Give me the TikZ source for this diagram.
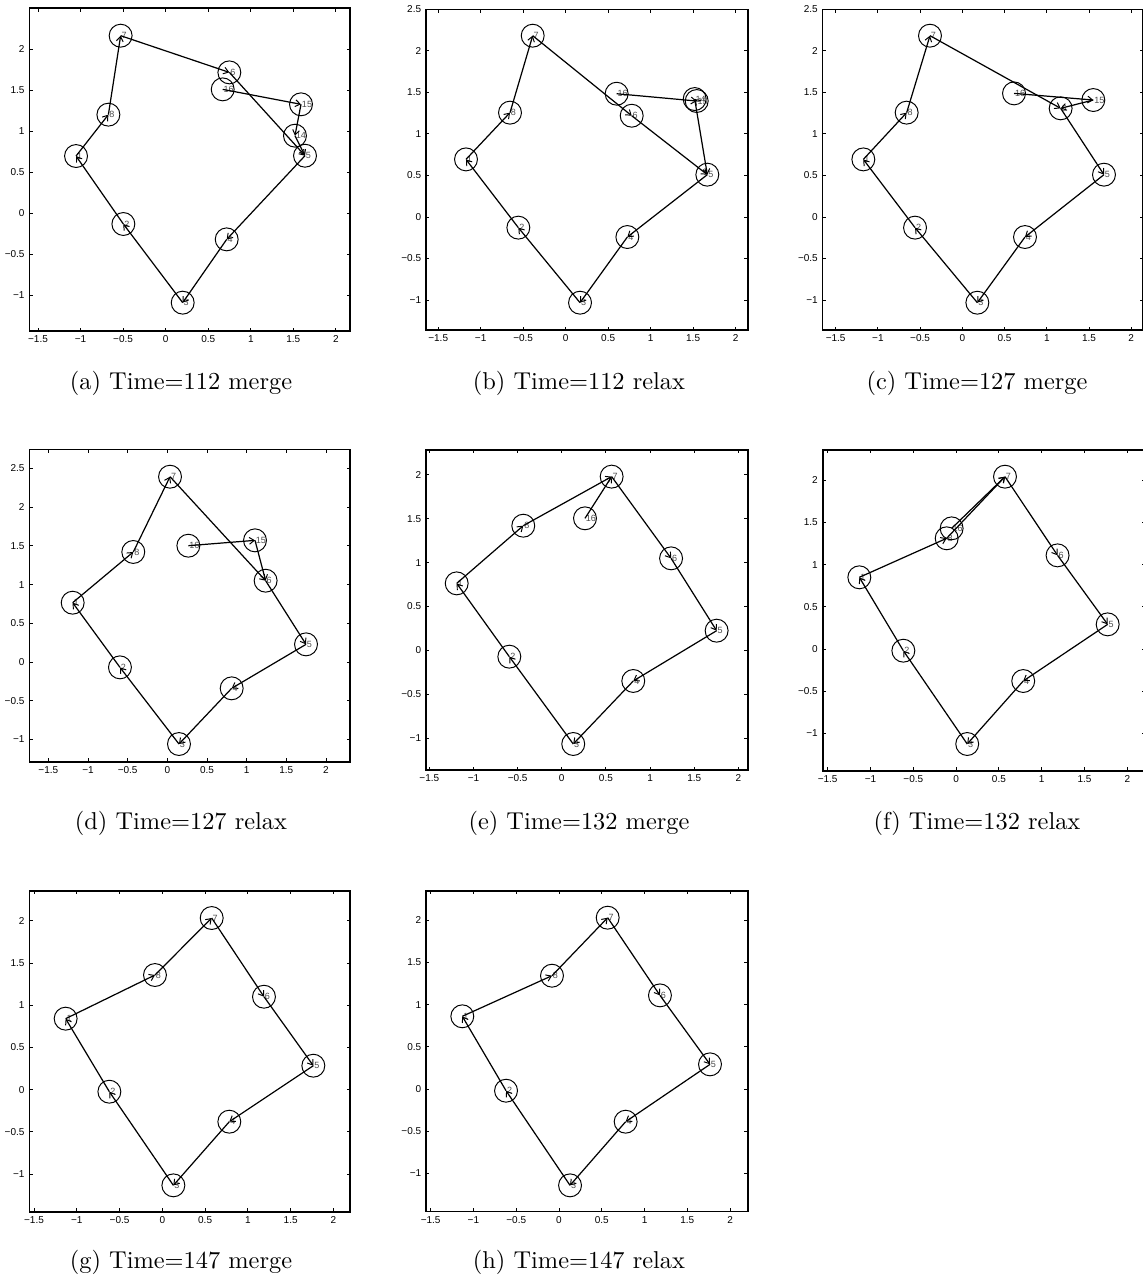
\documentclass[tikz,border=0pt]{standalone}
\usepackage{fontspec}
\newfontfamily\plotfont{Liberation Sans}
\usepackage{tikz}
\usetikzlibrary{arrows.meta}

\newcommand{\ticksize}{\plotfont\fontsize{4.1}{4.8}\selectfont}
\newcommand{\nodesize}{\plotfont\fontsize{3.7}{4}\selectfont}
\newcommand{\plotaxes}[6]{%
  \draw[frame] (#2,#4) rectangle (#3,#5);
  \foreach \t/\s [count=\i] in {-1.5/−1.5,-1/−1,-0.5/−0.5,0/0,0.5/0.5,1/1,1.5/1.5,2/2} {
    \draw[tick] (\t,#4) -- ++(0,1.4pt);
    \draw[tick] (\t,#5) -- ++(0,-1.4pt);
    \node[xlbl] (#1x\i) at (\t,#4) {\s};
  }
  \foreach \t/\s [count=\i] in {#6} {
    \draw[tick] (#2,\t) -- ++(1.4pt,0);
    \draw[tick] (#3,\t) -- ++(-1.4pt,0);
    \node[ylbl] (#1y\i) at (#2,\t) {\s};
  }
}

\begin{document}
\begin{tikzpicture}[
  x=0.41pt, y=-0.41pt,
  frame/.style={line width=0.7pt},
  tick/.style={line width=0.4pt},
  xlbl/.style={font=\ticksize, anchor=north, inner sep=0.5pt, yshift=-1.3pt},
  ylbl/.style={font=\ticksize, anchor=east, inner sep=0.5pt, xshift=-1.3pt},
  pt/.style={draw, circle, minimum size=9.4pt, inner sep=0pt, outer sep=0pt,
             line width=0.4pt},
  nlbl/.style={font=\nodesize, text=black!70, inner sep=0.2pt, anchor=west, xshift=-4.7pt},
  link/.style={line width=0.5pt, -{Straight Barb[length=2pt, width=2.8pt, line width=0.4pt]}},
  subcap/.style={font=\normalsize}
]
\useasboundingbox (0,0) rectangle (1143,1279);

\begin{scope}[shift={(165.67,213.33)}, x=34.90pt, y=33.66pt]
  \plotaxes{a}{-1.601}{2.165}{-1.433}{2.497}{-1/−1,-0.5/−0.5,0/0,0.5/0.5,1/1,1.5/1.5,2/2}
  \foreach \n/\px/\py in {1/-1.053/0.698, 2/-0.497/-0.130, 3/0.200/-1.088, 4/0.717/-0.317,
      5/1.637/0.702, 6/0.748/1.717, 7/-0.529/2.164, 8/-0.673/1.202,
      14/1.519/0.946, 15/1.590/1.328, 16/0.670/1.510}
    \node[pt, label={[nlbl]0:\n}] (a\n) at (\px,\py) {};
  \foreach \s/\e in {8/7,7/6,6/5,5/4,4/3,3/2,2/1,1/8,16/15,15/14,14/5}
    \draw[link] (a\s.center) -- (a\e.center);
\end{scope}

\begin{scope}[shift={(565.67,217)}, x=34.84pt, y=34.04pt]
  \plotaxes{b}{-1.644}{2.142}{-1.361}{2.5}{-1/−1,-0.5/−0.5,0/0,0.5/0.5,1/1,1.5/1.5,2/2,2.5/2.5}
  \foreach \n/\px/\py in {1/-1.173/0.694, 2/-0.557/-0.128, 3/0.169/-1.032, 4/0.726/-0.241,
      5/1.667/0.510, 6/0.777/1.220, 7/-0.388/2.184, 8/-0.655/1.257,
      14/1.518/1.421, 15/1.542/1.397, 16/0.600/1.485}
    \node[pt, label={[nlbl]0:\n}] (b\n) at (\px,\py) {};
  \foreach \s/\e in {8/7,7/6,6/5,5/4,4/3,3/2,2/1,1/8,16/15,15/14,14/5}
    \draw[link] (b\s.center) -- (b\e.center);
\end{scope}

\begin{scope}[shift={(962.33,217)}, x=34.63pt, y=34.04pt]
  \plotaxes{c}{-1.654}{2.142}{-1.361}{2.5}{-1/−1,-0.5/−0.5,0/0,0.5/0.5,1/1,1.5/1.5,2/2,2.5/2.5}
  \foreach \n/\px/\py in {1/-1.172/0.694, 2/-0.560/-0.128, 3/0.178/-1.032, 4/0.742/-0.241,
      5/1.677/0.510, 6/1.164/1.309, 7/-0.383/2.184, 8/-0.659/1.257,
      15/1.551/1.409, 16/0.612/1.489}
    \node[pt, label={[nlbl]0:\n}] (c\n) at (\px,\py) {};
  \foreach \s/\e in {8/7,7/6,6/5,5/4,4/3,3/2,2/1,1/8,16/15,15/6}
    \draw[link] (c\s.center) -- (c\e.center);
\end{scope}

\begin{scope}[shift={(167.33,662)}, x=32.53pt, y=31.75pt]
  \plotaxes{d}{-1.739}{2.303}{-1.287}{2.746}{-1/−1,-0.5/−0.5,0/0,0.5/0.5,1/1,1.5/1.5,2/2,2.5/2.5}
  \foreach \n/\px/\py in {1/-1.193/0.766, 2/-0.597/-0.069, 3/0.147/-1.059, 4/0.811/-0.340,
      5/1.748/0.228, 6/1.239/1.050, 7/0.034/2.393, 8/-0.429/1.421,
      15/1.105/1.571, 16/0.265/1.502}
    \node[pt, label={[nlbl]0:\n}] (d\n) at (\px,\py) {};
  \foreach \s/\e in {8/7,7/6,6/5,5/4,4/3,3/2,2/1,1/8,16/15,15/6}
    \draw[link] (d\s.center) -- (d\e.center);
\end{scope}

\begin{scope}[shift={(561.77,650.33)}, x=36.20pt, y=35.99pt]
  \plotaxes{e}{-1.538}{2.106}{-1.363}{2.283}{-1/−1,-0.5/−0.5,0/0,0.5/0.5,1/1,1.5/1.5,2/2}
  \foreach \n/\px/\py in {1/-1.190/0.763, 2/-0.594/-0.072, 3/0.130/-1.067, 4/0.810/-0.349,
      5/1.754/0.224, 6/1.238/1.048, 7/0.565/1.979, 8/-0.436/1.420, 16/0.263/1.504}
    \node[pt, label={[nlbl]0:\n}] (e\n) at (\px,\py) {};
  \foreach \s/\e in {8/7,7/6,6/5,5/4,4/3,3/2,2/1,1/8,16/7}
    \draw[link] (e\s.center) -- (e\e.center);
\end{scope}

\begin{scope}[shift={(956.1,649)}, x=35.11pt, y=34.62pt]
  \plotaxes{f}{-1.558}{2.21}{-1.441}{2.357}{-1/−1,-0.5/−0.5,0/0,0.5/0.5,1/1,1.5/1.5,2/2}
  \foreach \n/\px/\py in {1/-1.130/0.849, 2/-0.616/-0.020, 3/0.130/-1.125, 4/0.784/-0.379,
      5/1.770/0.292, 6/1.185/1.109, 7/0.571/2.041, 8/-0.110/1.311, 16/-0.052/1.429}
    \node[pt, label={[nlbl]0:\n}] (f\n) at (\px,\py) {};
  \foreach \s/\e in {8/7,7/6,6/5,5/4,4/3,3/2,2/1,1/8,16/7}
    \draw[link] (f\s.center) -- (f\e.center);
\end{scope}

\begin{scope}[shift={(162.33,1089.67)}, x=35.08pt, y=34.62pt]
  \plotaxes{g}{-1.554}{2.193}{-1.445}{2.353}{-1/−1,-0.5/−0.5,0/0,0.5/0.5,1/1,1.5/1.5,2/2}
  \foreach \n/\px/\py in {1/-1.130/0.841, 2/-0.619/-0.024, 3/0.129/-1.133, 4/0.783/-0.379,
      5/1.765/0.284, 6/1.188/1.101, 7/0.577/2.033, 8/-0.086/1.358}
    \node[pt, label={[nlbl]0:\n}] (g\n) at (\px,\py) {};
  \foreach \s/\e in {8/7,7/6,6/5,5/4,4/3,3/2,2/1,1/8}
    \draw[link] (g\s.center) -- (g\e.center);
\end{scope}

\begin{scope}[shift={(559,1089)}, x=35.08pt, y=34.62pt]
  \plotaxes{h}{-1.554}{2.205}{-1.45}{2.345}{-1/−1,-0.5/−0.5,0/0,0.5/0.5,1/1,1.5/1.5,2/2}
  \foreach \n/\px/\py in {1/-1.130/0.861, 2/-0.619/-0.020, 3/0.129/-1.141, 4/0.779/-0.387,
      5/1.765/0.292, 6/1.180/1.109, 7/0.569/2.029, 8/-0.082/1.342}
    \node[pt, label={[nlbl]0:\n}] (h\n) at (\px,\py) {};
  \foreach \s/\e in {8/7,7/6,6/5,5/4,4/3,3/2,2/1,1/8}
    \draw[link] (h\s.center) -- (h\e.center);
\end{scope}

\node[subcap] (capa) at (181,383) {(a) Time=112 merge};
\node[subcap] (capb) at (579,383) {(b) Time=112 relax};
\node[subcap] (capc) at (977,383) {(c) Time=127 merge};
\node[subcap] (capd) at (181,823) {(d) Time=127 relax};
\node[subcap] (cape) at (579,823) {(e) Time=132 merge};
\node[subcap] (capf) at (977,823) {(f) Time=132 relax};
\node[subcap] (capg) at (181,1262) {(g) Time=147 merge};
\node[subcap] (caph) at (579,1262) {(h) Time=147 relax};
\end{tikzpicture}
\end{document}
